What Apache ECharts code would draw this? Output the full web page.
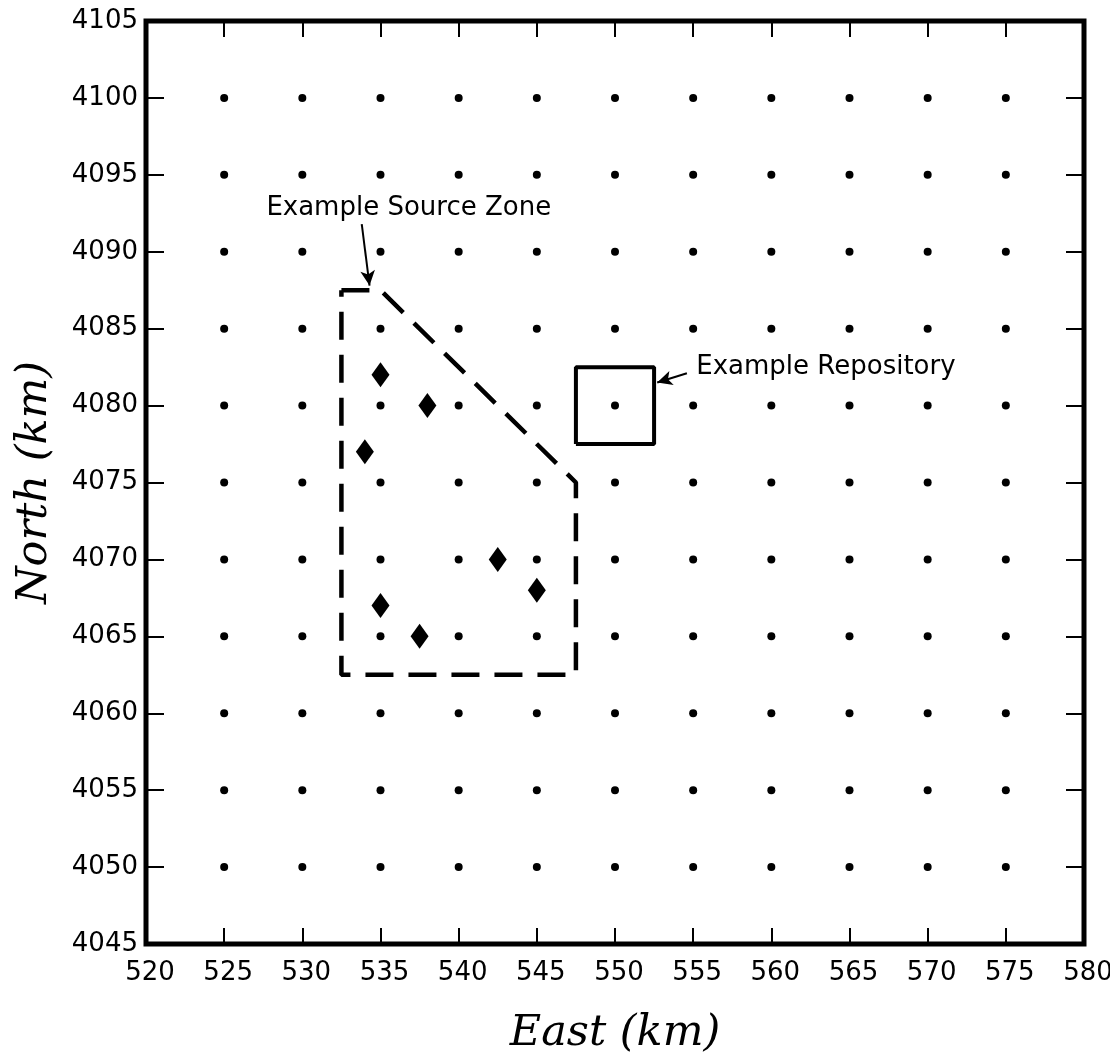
<!DOCTYPE html>
<html>
<head>
<meta charset="utf-8">
<script src="https://cdn.jsdelivr.net/npm/echarts@6/dist/echarts.min.js"></script>
<style>
  html, body { margin: 0; padding: 0; background: #fff; }
  #chart { width: 1110px; height: 1054px; }
</style>
</head>
<body>
<div id="chart"></div>
<script>
// grid of receptor points
const gridEast = [525, 530, 535, 540, 545, 550, 555, 560, 565, 570, 575];
const gridNorth = [4050, 4055, 4060, 4065, 4070, 4075, 4080, 4085, 4090, 4095, 4100];
// sources inside the zone (diamonds)
const sourceEast = [535, 538, 534, 542.5, 545, 535, 537.5];
const sourceNorth = [4082, 4080, 4077, 4070, 4068, 4067, 4065];
// source zone outline
const zoneEast = [532.5, 535, 547.5, 547.5, 532.5, 532.5];
const zoneNorth = [4087.5, 4087.5, 4075, 4062.5, 4062.5, 4087.5];
// repository square
const repoEast = [547.5, 552.5, 552.5, 547.5, 547.5];
const repoNorth = [4077.5, 4077.5, 4082.5, 4082.5, 4077.5];
// annotations
const noteText = ['Example Source Zone', 'Example Repository'];
const noteEast = [527.7, 555.2];
const noteNorth = [4092.8, 4082.5];
const arrowFrom = [[533.8, 4091.8], [554.6, 4082.1]];
const arrowTo = [[534.3, 4087.8], [552.7, 4081.5]];

const gridPts = [];
gridNorth.forEach(n => gridEast.forEach(e => gridPts.push([e, n])));
const zip = (a, b) => a.map((v, i) => [v, b[i]]);

const mychart = echarts.init(document.getElementById('chart'));
const tickFont = { color: '#000', fontSize: 26, fontFamily: 'DejaVu Sans', formatter: v => String(v) };
const titleFont = { color: '#000', fontSize: 43, fontFamily: 'DejaVu Serif', fontStyle: 'italic' };

const option = {
  animation: false,
  grid: {
    left: 146, right: 26, top: 21, bottom: 110, outerBoundsMode: 'none',
    show: true, borderColor: '#000', borderWidth: 5, backgroundColor: 'transparent'
  },
  xAxis: [
    {
      type: 'value', min: 520, max: 580, interval: 5, position: 'bottom',
      name: 'East (km)', nameLocation: 'middle', nameGap: 68, nameTextStyle: titleFont,
      axisLine: { show: false },
      axisTick: { inside: true, length: 16, lineStyle: { color: '#000', width: 2 } },
      axisLabel: Object.assign({ margin: 16, padding: [0, 0, 0, 8] }, tickFont),
      splitLine: { show: false }
    },
    {
      type: 'value', min: 520, max: 580, interval: 5, position: 'top',
      axisLine: { show: false },
      axisTick: { inside: true, length: 16, lineStyle: { color: '#000', width: 2 } },
      axisLabel: { show: false }, splitLine: { show: false }
    }
  ],
  yAxis: [
    {
      type: 'value', min: 4045, max: 4105, interval: 5, position: 'left',
      name: 'North (km)', nameLocation: 'middle', nameGap: 90, nameTextStyle: titleFont,
      axisLine: { show: false },
      axisTick: { inside: true, length: 18, lineStyle: { color: '#000', width: 2 } },
      axisLabel: Object.assign({ margin: 8 }, tickFont),
      splitLine: { show: false }
    },
    {
      type: 'value', min: 4045, max: 4105, interval: 5, position: 'right',
      axisLine: { show: false },
      axisTick: { inside: true, length: 18, lineStyle: { color: '#000', width: 2 } },
      axisLabel: { show: false }, splitLine: { show: false }
    }
  ],
  series: [
    {
      name: 'grid', type: 'scatter', data: gridPts,
      symbol: 'circle', symbolSize: 8, itemStyle: { color: '#000', opacity: 1 }, silent: true
    },
    {
      name: 'sources', type: 'scatter', data: zip(sourceEast, sourceNorth),
      symbol: 'diamond', symbolSize: [18, 25], itemStyle: { color: '#000', opacity: 1 }, silent: true
    },
    {
      name: 'zone', type: 'line', data: zip(zoneEast, zoneNorth),
      symbol: 'none', silent: true,
      lineStyle: { color: '#000', width: 4.5, type: [28, 15], cap: 'butt' }
    },
    {
      name: 'repository', type: 'line', data: zip(repoEast, repoNorth),
      symbol: 'none', silent: true,
      lineStyle: { color: '#000', width: 4 }
    },
    {
      name: 'notes', type: 'scatter', data: zip(noteEast, noteNorth),
      symbolSize: 0, silent: true, itemStyle: { color: '#000', opacity: 1 },
      label: {
        show: true, position: 'right', distance: 0,
        formatter: p => noteText[p.dataIndex],
        color: '#000', opacity: 1, fontSize: 26, fontFamily: 'DejaVu Sans'
      },
      markLine: {
        silent: true, symbol: ['none', 'arrow'], symbolSize: [11, 15],
        label: { show: false },
        lineStyle: { color: '#000', width: 2, type: 'solid', opacity: 1 },
        data: arrowFrom.map((a, i) => [{ coord: a }, { coord: arrowTo[i] }])
      }
    }
  ]
};

mychart.setOption(option);
window.addEventListener('resize', function () {
  mychart.resize();
});
</script>
</body>
</html>
